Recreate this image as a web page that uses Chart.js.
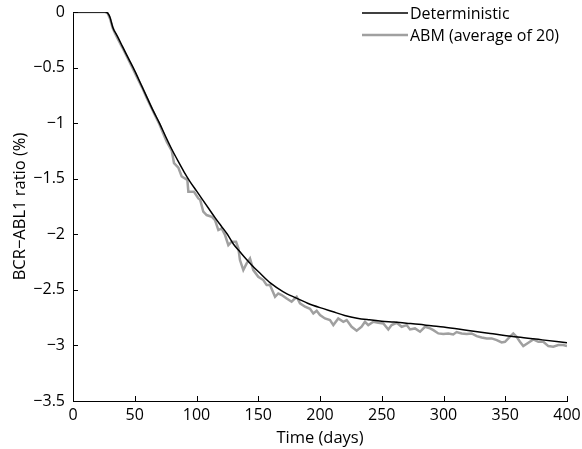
<!DOCTYPE html>
<html lang="en">
<head>
  <meta charset="UTF-8">
  <title>BCR-ABL1 ratio</title>
  <script src="https://cdn.jsdelivr.net/npm/chart.js"></script>
  <style>
    html, body {
      margin: 0;
      padding: 0;
      background: #fff;
      overflow: hidden;
    }
    #wrap {
      position: relative;
      width: 582px;
      height: 449px;
    }
  </style>
</head>
<body>
  <div id="wrap"><canvas id="chart" width="582" height="449"></canvas></div>

  <script>
    // values
    const detDays = [0, 10, 20, 26, 28, 30, 31, 32, 33, 34, 36, 40, 45, 50, 55, 60, 65, 70, 75, 80,
      85, 90, 95, 100, 105, 110, 115, 120, 125, 130, 135, 140, 145, 150, 160, 170, 180, 190, 200,
      210, 220, 230, 240, 250, 260, 270, 280, 290, 300, 320, 340, 360, 380, 400];
    const detRatio = [0, 0, 0, 0, -0.01, -0.05, -0.09, -0.13, -0.16, -0.18, -0.22, -0.31, -0.42, -0.53,
      -0.65, -0.77, -0.89, -1.0, -1.12, -1.235, -1.34, -1.44, -1.53, -1.61, -1.69, -1.77, -1.85,
      -1.925, -2.0, -2.09, -2.155, -2.22, -2.28, -2.335, -2.44, -2.515, -2.57, -2.62, -2.66,
      -2.695, -2.73, -2.755, -2.77, -2.782, -2.79, -2.8, -2.81, -2.823, -2.835, -2.865, -2.895,
      -2.925, -2.95, -2.976];

    const abmDays = [0, 10, 20, 26, 28, 30, 32, 34, 36, 40, 44, 48, 52, 56, 60, 63, 66, 70, 73, 76,
      78, 80, 81.8, 85.3, 88, 92.6, 93.4, 98, 101.5, 103, 105.5, 108.2, 112.3, 115, 117.7, 120.4,
      123.1, 125.8, 128.5, 132, 133.9, 135.2, 137.9, 140.6, 143.3, 146, 150, 154.1, 156.8, 159.5,
      163.6, 166.2, 169, 173, 177, 181.1, 183.8, 187.9, 191.9, 194.6, 197.3, 200, 204, 208.1,
      210.8, 214.8, 218.9, 221.6, 225.6, 229.7, 233.7, 236.4, 239.1, 243.2, 247.2, 251.3, 255.3,
      258, 262.1, 266.1, 270.2, 272.9, 276.9, 281, 285, 289.1, 291.8, 295.8, 299.8, 303.9, 307.9,
      310.6, 314.7, 318.8, 322.8, 326.9, 330.9, 335, 339, 343.1, 347.1, 349.8, 352.5, 356.5,
      359.2, 361.9, 364.6, 368.7, 372.7, 376.8, 380.8, 384.9, 388.9, 393, 397, 400];
    const abmRatio = [0, 0, 0, 0, -0.01, -0.06, -0.14, -0.19, -0.235, -0.32, -0.41, -0.5, -0.59,
      -0.68, -0.78, -0.85, -0.92, -1.01, -1.09, -1.17, -1.21, -1.25, -1.36, -1.4, -1.48, -1.51,
      -1.617, -1.617, -1.677, -1.69, -1.797, -1.827, -1.842, -1.872, -1.962, -1.947, -2.007,
      -2.097, -2.067, -2.067, -2.127, -2.232, -2.322, -2.262, -2.217, -2.322, -2.382, -2.412,
      -2.457, -2.457, -2.562, -2.532, -2.547, -2.577, -2.607, -2.562, -2.622, -2.652, -2.67,
      -2.712, -2.688, -2.727, -2.757, -2.772, -2.817, -2.757, -2.787, -2.772, -2.832, -2.868,
      -2.832, -2.787, -2.817, -2.787, -2.796, -2.802, -2.856, -2.817, -2.796, -2.832, -2.817,
      -2.856, -2.847, -2.877, -2.832, -2.847, -2.862, -2.892, -2.898, -2.892, -2.901, -2.88,
      -2.892, -2.898, -2.892, -2.916, -2.928, -2.937, -2.937, -2.952, -2.973, -2.967, -2.937,
      -2.892, -2.922, -2.967, -3.006, -2.976, -2.946, -2.967, -2.967, -3.006, -3.012, -2.997,
      -2.997, -3.006];

    const seriesNames = ['Deterministic', 'ABM (average of 20)'];
    const xTicks = [0, 50, 100, 150, 200, 250, 300, 350, 400];
    const yTicks = [0, -0.5, -1, -1.5, -2, -2.5, -3, -3.5];

    const FONT = "'Open Sans', 'DejaVu Sans', sans-serif";
    Chart.defaults.font.family = FONT;
    Chart.defaults.font.size = 16;
    Chart.defaults.color = '#000';

    const toPoints = (xs, ys) => xs.map((x, i) => ({ x: x, y: ys[i] }));
    const fmt = v => v < 0 ? '\u2212' + Math.abs(v) : String(v);

    // short tick marks pointing into the plot, as in the original
    const innerTicks = {
      id: 'innerTicks',
      afterDraw(chart) {
        const { ctx, chartArea, scales } = chart;
        ctx.save();
        ctx.strokeStyle = '#000';
        ctx.lineWidth = 1;
        ctx.beginPath();
        xTicks.forEach(v => {
          const px = Math.round(scales.x.getPixelForValue(v)) + 0.5;
          ctx.moveTo(px, chartArea.bottom);
          ctx.lineTo(px, chartArea.bottom - 5);
        });
        yTicks.forEach(v => {
          const py = Math.round(scales.y.getPixelForValue(v)) + 0.5;
          ctx.moveTo(chartArea.left, py);
          ctx.lineTo(chartArea.left + 5, py);
        });
        ctx.stroke();
        ctx.restore();
      }
    };

    // legend in the top right corner, no frame
    const cornerLegend = {
      id: 'cornerLegend',
      afterDraw(chart) {
        const { ctx } = chart;
        ctx.save();
        ctx.font = '16px ' + FONT;
        ctx.textBaseline = 'middle';
        ctx.fillStyle = '#000';
        chart.data.datasets.forEach((ds, i) => {
          const y = 13 + i * 22;
          ctx.strokeStyle = ds.borderColor;
          ctx.lineWidth = ds.borderWidth;
          ctx.beginPath();
          ctx.moveTo(362, y);
          ctx.lineTo(408, y);
          ctx.stroke();
          ctx.fillText(ds.label, 410, y + 1);
        });
        ctx.restore();
      }
    };

    new Chart(document.getElementById('chart'), {
      type: 'line',
      data: {
        datasets: [
          {
            label: seriesNames[0],
            data: toPoints(detDays, detRatio),
            borderColor: '#000',
            borderWidth: 1.5,
            pointRadius: 0,
            cubicInterpolationMode: 'monotone',
            fill: false
          },
          {
            label: seriesNames[1],
            data: toPoints(abmDays, abmRatio),
            borderColor: '#a0a0a0',
            borderWidth: 2.5,
            pointRadius: 0,
            tension: 0,
            fill: false
          }
        ]
      },
      options: {
        responsive: false,
        animation: false,
        layout: { padding: { top: 12, right: 15, left: 0, bottom: 0 } },
        plugins: {
          legend: { display: false },
          tooltip: { enabled: false }
        },
        scales: {
          x: {
            type: 'linear',
            min: 0,
            max: 400,
            afterBuildTicks: s => { s.ticks = xTicks.map(v => ({ value: v })); },
            afterFit: s => { s.height = 48; s.paddingLeft = 0; s.paddingRight = 0; },
            grid: { display: true, drawOnChartArea: false, drawTicks: false },
            border: { display: true, color: '#000', width: 1 },
            ticks: { padding: 5, maxRotation: 0, callback: v => fmt(v) },
            title: {
              display: true,
              text: 'Time (days)',
              font: { size: 16.5 },
              padding: { top: 0, bottom: 1 }
            }
          },
          y: {
            type: 'linear',
            min: -3.5,
            max: 0,
            afterBuildTicks: s => { s.ticks = yTicks.map(v => ({ value: v })); },
            afterFit: s => { s.width = 73; s.paddingTop = 0; s.paddingBottom = 0; },
            grid: { display: true, drawOnChartArea: false, drawTicks: false },
            border: { display: true, color: '#000', width: 1 },
            ticks: { padding: 8, callback: v => fmt(v) },
            title: {
              display: true,
              text: 'BCR\u2212ABL1 ratio (%)',
              font: { size: 16.5 },
              padding: { top: 10, bottom: 0 }
            }
          }
        }
      },
      plugins: [innerTicks, cornerLegend]
    });
  </script>
</body>
</html>
